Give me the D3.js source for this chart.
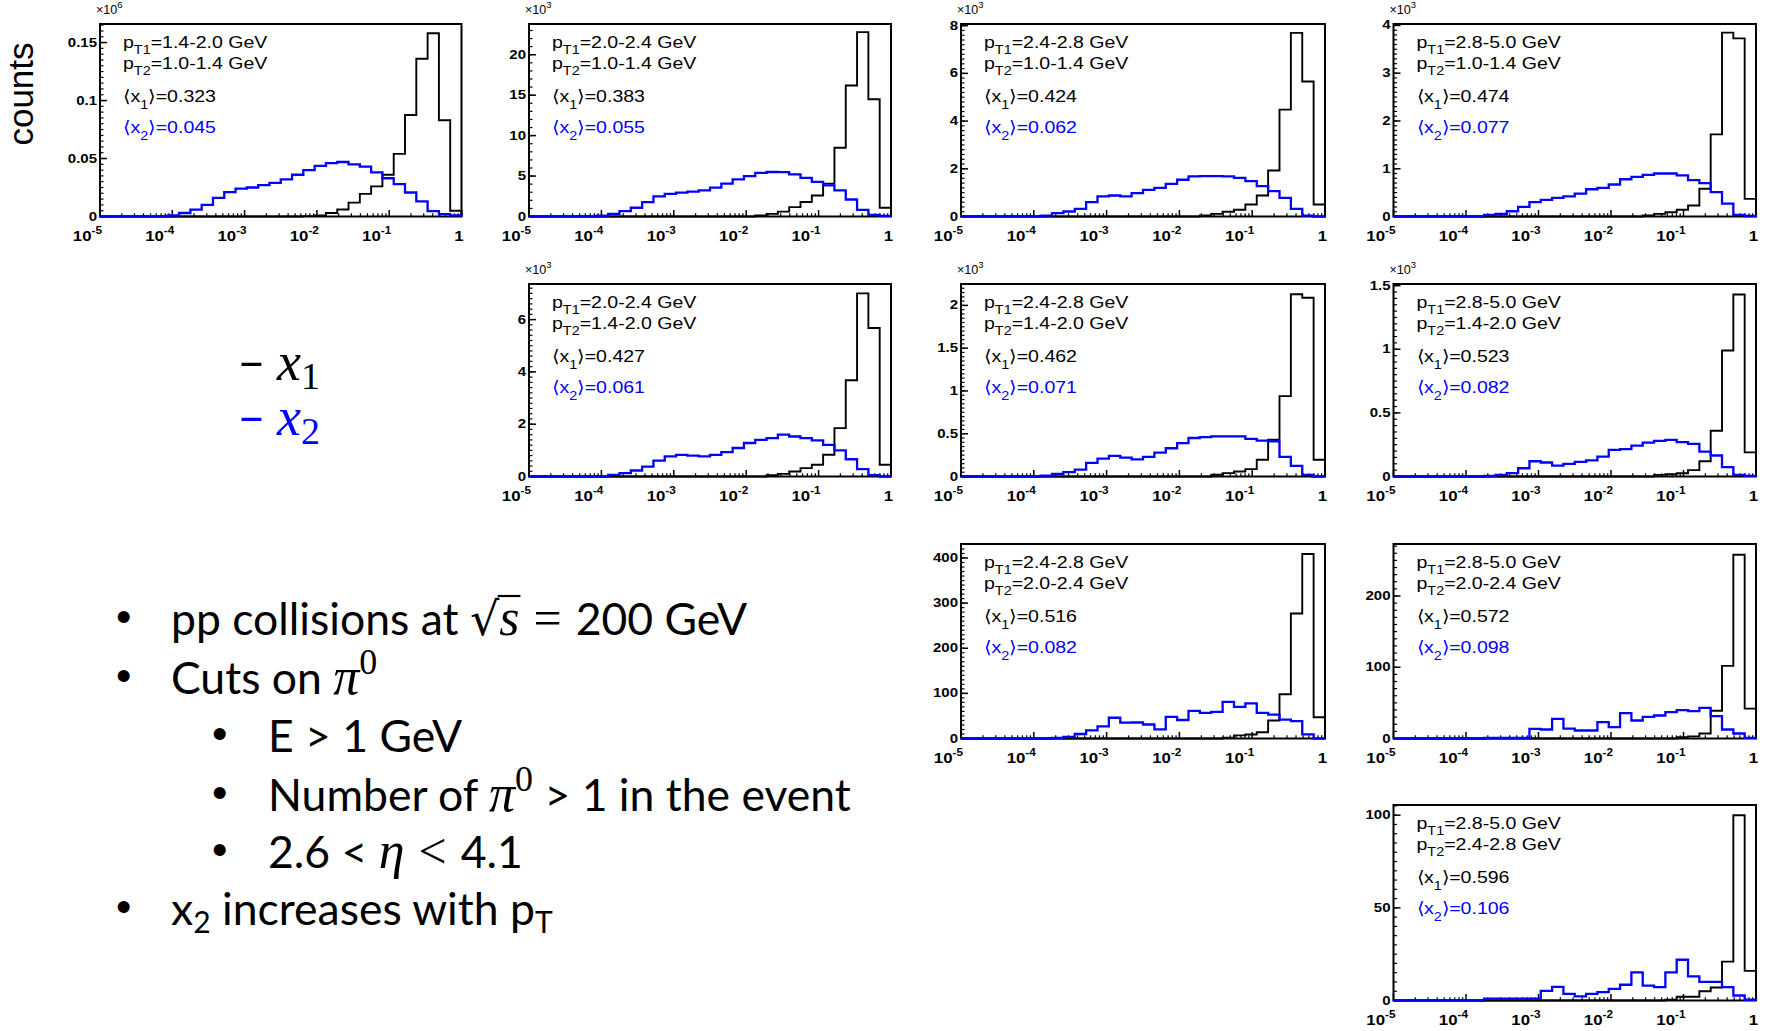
<!DOCTYPE html>
<html><head><meta charset="utf-8">
<script src="https://cdn.jsdelivr.net/npm/d3@7"></script>
<style>body{margin:0;background:#fff;} svg{display:block;}</style>
</head><body>
<svg id="c" width="1768" height="1031"></svg>
<script>
// ---------------- data ----------------
const pt1Range = ["1.4-2.0","2.0-2.4","2.4-2.8","2.8-5.0","2.0-2.4","2.4-2.8","2.8-5.0","2.4-2.8","2.8-5.0","2.8-5.0"];
const pt2Range = ["1.0-1.4","1.0-1.4","1.0-1.4","1.0-1.4","1.4-2.0","1.4-2.0","1.4-2.0","2.0-2.4","2.0-2.4","2.4-2.8"];
const meanX1 = ["0.323","0.383","0.424","0.474","0.427","0.462","0.523","0.516","0.572","0.596"];
const meanX2 = ["0.045","0.055","0.062","0.077","0.061","0.071","0.082","0.082","0.098","0.106"];
const yExponent = [6,3,3,3,3,3,3,0,0,0];
const yMax = [0.166,23.8,8.07,4.03,7.36,2.25,1.513,431,273,105.5];
const yMajorStep = [0.05,5,2,1,2,0.5,0.5,100,100,50];
const yMinorDiv = [10,5,10,10,10,10,10,10,10,10];
const xDecades = [-5,-4,-3,-2,-1,0];
const nBins = 32;

const x1_p1 = [0,0,0,0,0,0,0,0,0,0, 0,0,0,0,0,0,0,0,0.0003,0.0008, 0.003,0.006,0.012,0.0195,0.026,0.036,0.054,0.0875,0.136,0.158, 0.083,0.005];
const x2_p1 = [0,0,0,0,0,0,0.001,0.003,0.006,0.010, 0.016,0.021,0.024,0.025,0.027,0.029,0.032,0.036,0.040,0.0436, 0.046,0.047,0.045,0.043,0.038,0.033,0.028,0.0207,0.013,0.0046, 0.002,0.001];
const x1_p2 = [0,0,0,0,0,0,0,0,0,0, 0,0,0,0,0,0,0,0,0,0, 0.12,0.33,0.6,1.16,1.8,2.6,4.07,8.5,16.2,22.8, 14.5,1.08];
const x2_p2 = [0,0,0,0,0,0,0.12,0.33,0.66,1.08, 1.78,2.5,2.8,2.95,3.07,3.24,3.57,4.07,4.6,5.0, 5.4,5.5,5.48,5.2,4.77,4.27,3.86,3.24,2.1,0.83, 0.2,0.08];
const x1_p3 = [0,0,0,0,0,0,0,0,0,0, 0,0,0,0,0,0,0,0,0,0, 0,0.04,0.11,0.2,0.28,0.5,0.88,1.93,4.48,7.7, 5.66,0.5];
const x2_p3 = [0,0,0,0,0,0,0,0.04,0.14,0.21, 0.32,0.6,0.84,0.88,0.84,0.98,1.12,1.2,1.37,1.54, 1.68,1.69,1.69,1.68,1.62,1.48,1.27,1.06,0.78,0.32, 0.04,0];
const x1_p4 = [0,0,0,0,0,0,0,0,0,0, 0,0,0,0,0,0,0,0,0,0, 0,0,0.02,0.055,0.09,0.14,0.23,0.58,1.72,3.85, 3.73,0.37];
const x2_p4 = [0,0,0,0,0,0,0,0,0.035,0.056, 0.11,0.2,0.3,0.35,0.39,0.42,0.48,0.57,0.6,0.67, 0.78,0.83,0.87,0.9,0.9,0.86,0.76,0.7,0.51,0.27, 0.035,0.01];
const x1_p5 = [0,0,0,0,0,0,0,0,0,0, 0,0,0,0,0,0,0,0,0,0, 0,0.05,0.1,0.19,0.32,0.45,0.83,1.85,3.68,7.0, 5.68,0.45];
const x2_p5 = [0,0,0,0,0,0,0,0.06,0.13,0.23, 0.38,0.61,0.77,0.83,0.8,0.77,0.83,0.93,1.09,1.28, 1.4,1.47,1.6,1.53,1.47,1.38,1.21,1.0,0.66,0.28, 0.05,0];
const x1_p6 = [0,0,0,0,0,0,0,0,0,0, 0,0,0,0,0,0,0,0,0,0, 0,0,0.02,0.04,0.058,0.086,0.195,0.43,0.94,2.13, 2.09,0.195];
const x2_p6 = [0,0,0,0,0,0,0,0.01,0.03,0.05, 0.08,0.16,0.21,0.24,0.22,0.2,0.23,0.28,0.33,0.39, 0.45,0.46,0.47,0.47,0.47,0.44,0.42,0.41,0.23,0.125, 0.02,0];
const x1_p7 = [0,0,0,0,0,0,0,0,0,0, 0,0,0,0,0,0,0,0,0,0, 0,0,0,0.013,0.018,0.026,0.05,0.12,0.36,0.99, 1.43,0.19];
const x2_p7 = [0,0,0,0,0,0,0,0,0.005,0.013, 0.026,0.065,0.12,0.11,0.086,0.1,0.115,0.126,0.157,0.21, 0.215,0.243,0.267,0.28,0.288,0.27,0.256,0.196,0.165,0.073, 0.013,0.005];
const x1_p8 = [0,0,0,0,0,0,0,0,0,0, 0,0,0,0,0,0,0,0,0,0, 0,0,0,1.5,7,9,14,40,98,277, 409,47];
const x2_p8 = [0,0,0,0,0,0,0,0,1.5,3.7, 10,18,27,46,35,35.5,31,20,48,41, 61,57,59,81,70,78,57,53,42,38.5, 9,0];
const x1_p9 = [0,0,0,0,0,0,0,0,0,0, 0,0,0,0,0,0,0,0,0,0, 0,0,0,0,0,2,3,7,39,102, 258,42];
const x2_p9 = [0,0,0,0,0,0,0,0,1,1, 1,1,13.5,12.6,27.6,14,11.2,11.2,23,16, 35.6,25.3,30.4,32.3,37,39.8,38.4,43,31.4,12.6, 7,1];
const x1_p10 = [0,0,0,0,0,0,0,0,0,0, 0,0,0,0,0,0,0,0,0,0, 0,0,0,0,0.4,2,2,5,7,21, 100,16];
const x2_p10 = [0,0,0,0,0,0,0,0,1,1, 1,1,1,5.2,7.4,3.6,2.2,3.6,4.5,6.3, 8.5,15.2,8,7.2,15.2,22,13,10,10,7.2, 2.7,0.4];

const x1Series = [x1_p1,x1_p2,x1_p3,x1_p4,x1_p5,x1_p6,x1_p7,x1_p8,x1_p9,x1_p10];
const x2Series = [x2_p1,x2_p2,x2_p3,x2_p4,x2_p5,x2_p6,x2_p7,x2_p8,x2_p9,x2_p10];

// ---------------- layout ----------------
const svg = d3.select("#c");
const BLUE = "#0000ff";
const FONT = "'Liberation Sans', Arial, Helvetica, sans-serif";
const colL = [100, 529, 961, 1393.5], colR = [461.5, 891, 1325, 1756];
const rowT = [24, 284, 544, 805], rowB = [216.5, 476.5, 738.5, 1000.5];
const grid = [[0,0],[0,1],[0,2],[0,3],[1,1],[1,2],[1,3],[2,2],[2,3],[3,3]];
const edges = d3.range(nBins + 1).map(i => Math.pow(10, -5 + 5 * i / nBins));

function stext(g, x, y, size, opts = {}) {
  const sx = opts.sx || 1.15;
  return g.append("text")
    .attr("transform", `translate(${x},${y}) scale(${sx},1)`)
    .attr("font-family", FONT).attr("font-size", size)
    .attr("font-weight", opts.bold ? "bold" : "normal")
    .attr("text-anchor", opts.anchor || "start")
    .attr("fill", opts.color || "#000");
}
const fmt = v => String(+v.toFixed(6));

grid.forEach(([r, c], p) => {
  const L = colL[c], R = colR[c], T = rowT[r], B = rowB[r];
  const x = d3.scaleLog().domain([1e-5, 1]).range([L, R]);
  const y = d3.scaleLinear().domain([0, yMax[p]]).range([B, T]);
  const g = svg.append("g");

  // frame
  g.append("rect").attr("x", L).attr("y", T).attr("width", R - L).attr("height", B - T)
    .attr("fill", "none").attr("stroke", "#000").attr("stroke-width", 2);

  // y ticks
  const major = d3.range(0, yMax[p] + 1e-9, yMajorStep[p]);
  const minorStep = yMajorStep[p] / yMinorDiv[p];
  const minor = d3.range(0, yMax[p] + 1e-9, minorStep);
  g.selectAll(null).data(minor).join("line")
    .attr("x1", L).attr("x2", L + 3.5).attr("y1", d => y(d)).attr("y2", d => y(d))
    .attr("stroke", "#000").attr("stroke-width", 1.2);
  g.selectAll(null).data(major).join("line")
    .attr("x1", L).attr("x2", L + 7).attr("y1", d => y(d)).attr("y2", d => y(d))
    .attr("stroke", "#000").attr("stroke-width", 1.5);
  major.forEach(v => {
    stext(g, L - 3, y(v) + 4, 12.5, {bold: true, anchor: "end", sx: 1.2}).text(fmt(v));
  });
  if (yExponent[p] > 0) {
    const t = stext(g, L - 4, T - 10, 12, {sx: 1.05});
    t.append("tspan").text("\u00d710");
    t.append("tspan").attr("font-size", 9).attr("dy", -6).text(yExponent[p]);
  }

  // x ticks (log)
  const xMinor = [];
  xDecades.slice(0, -1).forEach(d => { for (let k = 2; k <= 9; k++) xMinor.push(k * Math.pow(10, d)); });
  g.selectAll(null).data(xMinor).join("line")
    .attr("x1", d => x(d)).attr("x2", d => x(d)).attr("y1", B).attr("y2", B - 3.2)
    .attr("stroke", "#000").attr("stroke-width", 1.2);
  g.selectAll(null).data(xDecades.map(d => Math.pow(10, d))).join("line")
    .attr("x1", d => x(d)).attr("x2", d => x(d)).attr("y1", B).attr("y2", B - 6.5)
    .attr("stroke", "#000").attr("stroke-width", 1.5);
  xDecades.forEach(d => {
    const xv = x(Math.pow(10, d));
    const t = stext(g, xv + 2, B + 24, 15, {bold: true, anchor: "end", sx: 1.12});
    if (d === 0) {
      t.text("1");
    } else {
      t.append("tspan").text("10");
      t.append("tspan").attr("font-size", 10.5).attr("dy", -7).text(String(d));
    }
  });

  // histograms
  const line = d3.line().x(d => x(d[0])).y(d => y(d[1])).curve(d3.curveStepAfter);
  const pts = vals => vals.map((v, i) => [edges[i], v]).concat([[edges[nBins], vals[nBins - 1]], [edges[nBins], 0]]);
  g.append("path").attr("d", line(pts(x1Series[p]))).attr("fill", "none")
    .attr("stroke", "#000").attr("stroke-width", 1.9);
  g.append("path").attr("d", line(pts(x2Series[p]))).attr("fill", "none")
    .attr("stroke", BLUE).attr("stroke-width", 2.3);

  // labels inside
  const tx = L + 23, FS = 17, SS = 12.5;
  let t = stext(g, tx, T + 24, FS);
  t.append("tspan").text("p");
  t.append("tspan").attr("font-size", SS).attr("dy", 6).text("T1");
  t.append("tspan").attr("dy", -6).text("=" + pt1Range[p] + " GeV");
  t = stext(g, tx, T + 45, FS);
  t.append("tspan").text("p");
  t.append("tspan").attr("font-size", SS).attr("dy", 6).text("T2");
  t.append("tspan").attr("dy", -6).text("=" + pt2Range[p] + " GeV");
  t = stext(g, tx, T + 78, FS);
  t.append("tspan").text("\u27e8x");
  t.append("tspan").attr("font-size", SS).attr("dy", 7).text("1");
  t.append("tspan").attr("dy", -7).text("\u27e9=" + meanX1[p]);
  t = stext(g, tx, T + 109, FS, {color: BLUE});
  t.append("tspan").text("\u27e8x");
  t.append("tspan").attr("font-size", SS).attr("dy", 7).text("2");
  t.append("tspan").attr("dy", -7).text("\u27e9=" + meanX2[p]);
});

// "counts" label
svg.append("text").attr("transform", "translate(33,94) rotate(-90)")
  .attr("text-anchor", "middle").attr("font-family", FONT).attr("font-size", 35).text("counts");

// legend
const SANS = "Lato, 'Open Sans', sans-serif";
const SERIF = "'Liberation Serif', 'DejaVu Serif', serif";
[["1", "#000", 380], ["2", BLUE, 435]].forEach(([s, col, by]) => {
  const t = svg.append("text").attr("y", by).attr("fill", col);
  t.append("tspan").attr("x", 238).attr("font-family", SANS).attr("font-size", 46).text("\u2212");
  t.append("tspan").attr("x", 277).attr("font-family", SERIF).attr("font-style", "italic").attr("font-size", 54).text("x");
  t.append("tspan").attr("font-family", SERIF).attr("font-size", 38).attr("dy", 9).text(s);
});

// bullet text
const BS = 44.5;
function bline(xb, xt, by, build) {
  svg.append("text").attr("x", xb).attr("y", by - 3).attr("font-family", "Arial, 'Liberation Sans'").attr("font-size", 44).text("\u2022");
  const t = svg.append("text").attr("x", xt).attr("y", by).attr("font-family", SANS).attr("font-size", BS).attr("fill", "#000");
  build(t);
  return t;
}
const mathI = (t, s, size) => t.append("tspan").attr("font-family", SERIF).attr("font-style", "italic").attr("font-size", size || 52).text(s);

const l1 = bline(116, 171, 635, t => {
  t.append("tspan").text("pp collisions at ");
  t.append("tspan").attr("font-family", "'DejaVu Serif', serif").attr("font-size", 46).text("\u221a");
  mathI(t, "s");
  t.append("tspan").attr("dx", 14).attr("font-family", SERIF).attr("font-size", 50).text("=");
  t.append("tspan").attr("dx", 14).text("200 GeV");
});
// overline of the square root
{
  const node = l1.node();
  const i0 = "pp collisions at ".length;
  const rad = node.getExtentOfChar(i0), sE = node.getExtentOfChar(i0 + 1);
  svg.append("line").attr("x1", rad.x + rad.width - 1.5).attr("x2", sE.x + sE.width + 1)
    .attr("y1", rad.y + 4).attr("y2", rad.y + 4).attr("stroke", "#000").attr("stroke-width", 2.2);
}
bline(116, 171, 694, t => {
  t.append("tspan").text("Cuts on ");
  mathI(t, "\u03c0");
  t.append("tspan").attr("font-family", SERIF).attr("font-size", 36).attr("dy", -20).text("0");
});
bline(212, 268, 752, t => { t.append("tspan").text("E > 1 GeV"); });
bline(212, 268, 811, t => {
  t.append("tspan").text("Number of ");
  mathI(t, "\u03c0");
  t.append("tspan").attr("font-family", SERIF).attr("font-size", 36).attr("dy", -20).text("0");
  t.append("tspan").attr("dy", 20).text(" > 1 in the event");
});
bline(212, 268, 868, t => {
  t.append("tspan").text("2.6 < ");
  mathI(t, "\u03b7");
  t.append("tspan").attr("font-family", SERIF).attr("font-size", 50).attr("dx", 14).text("<");
  t.append("tspan").attr("dx", 14).text("4.1");
});
bline(116, 171, 925, t => {
  t.append("tspan").text("x");
  t.append("tspan").attr("font-size", 30).attr("dy", 8).text("2");
  t.append("tspan").attr("dy", -8).text(" increases with p");
  t.append("tspan").attr("font-size", 30).attr("dy", 8).text("T");
});
</script>
</body></html>
